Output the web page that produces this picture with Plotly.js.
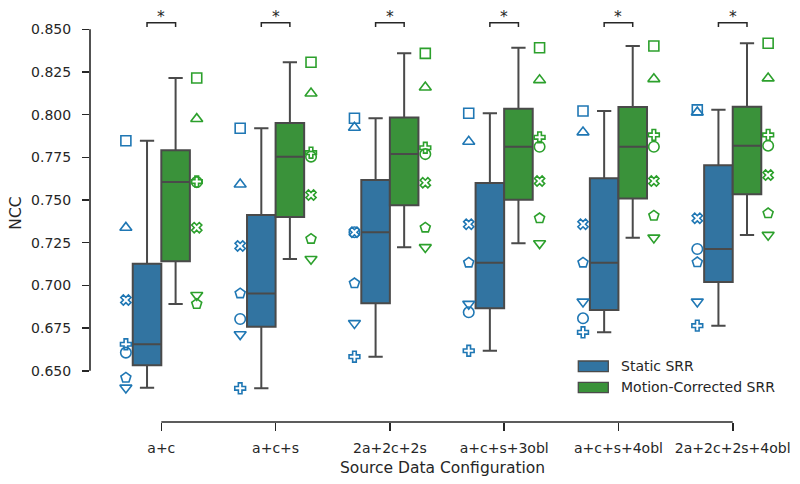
<!DOCTYPE html>
<html>
<head>
<meta charset="utf-8">
<script src="https://cdn.plot.ly/plotly-3.0.1.min.js"></script>
<style>html,body{margin:0;padding:0;background:#fff;}#chart{width:800px;height:484px;}</style>
</head>
<body>
<div id="chart"></div>
<script>
// ---- data ----
const categories = ['a+c', 'a+c+s', '2a+2c+2s', 'a+c+s+3obl', 'a+c+s+4obl', '2a+2c+2s+4obl'];
const seriesNames = ['Static SRR', 'Motion-Corrected SRR'];
const yTickVals = [0.650, 0.675, 0.700, 0.725, 0.750, 0.775, 0.800, 0.825, 0.850];
const significance = ['*', '*', '*', '*', '*', '*'];

// Static SRR, one array per subject, values per configuration
const staticSub1 = [0.7847, 0.7920, 0.7979, 0.8008, 0.8021, 0.8028];
const staticSub2 = [0.7338, 0.7592, 0.7924, 0.7842, 0.7897, 0.8013];
const staticSub3 = [0.6914, 0.7231, 0.7311, 0.7358, 0.7358, 0.7393];
const staticSub4 = [0.6606, 0.6803, 0.7311, 0.6842, 0.6807, 0.7213];
const staticSub5 = [0.6459, 0.6953, 0.7012, 0.7133, 0.7133, 0.7135];
const staticSub6 = [0.6400, 0.6713, 0.6778, 0.6891, 0.6904, 0.6904];
const staticSub7 = [0.6655, 0.6397, 0.6582, 0.6617, 0.6725, 0.6764];

// Motion-Corrected SRR, one array per subject, values per configuration
const mcSub1 = [0.8215, 0.8307, 0.8359, 0.8392, 0.8402, 0.8418];
const mcSub2 = [0.7975, 0.8125, 0.8160, 0.8203, 0.8209, 0.8213];
const mcSub3 = [0.7338, 0.7529, 0.7601, 0.7611, 0.7611, 0.7646];
const mcSub4 = [0.7605, 0.7754, 0.7769, 0.7812, 0.7812, 0.7818];
const mcSub5 = [0.6891, 0.7272, 0.7338, 0.7393, 0.7408, 0.7422];
const mcSub6 = [0.6943, 0.7154, 0.7223, 0.7246, 0.7279, 0.7295];
const mcSub7 = [0.7608, 0.7777, 0.7806, 0.7867, 0.7881, 0.7881];

const staticSubjects = [staticSub1, staticSub2, staticSub3, staticSub4, staticSub5, staticSub6, staticSub7];
const mcSubjects = [mcSub1, mcSub2, mcSub3, mcSub4, mcSub5, mcSub6, mcSub7];

// ---- styles ----
const FONT = 'DejaVu Sans, Verdana, sans-serif';
const TXT = '#262626';
const EDGE = '#4a4a4a';
const boxFill = ['#3274a1', '#3a923a'];
const markerColor = ['#1f77b4', '#2ca02c'];
const subjectSymbols = ['square-open', 'triangle-up-open', 'x-open', 'circle-open', 'pentagon-open', 'triangle-down-open', 'cross-open'];
const subjectSizes = [10, 10.5, 9, 10.5, 10.5, 10.5, 9];
const markerOffset = 0.31;
const TICK_SIZE = 14, LABEL_SIZE = 15.5;

// layout geometry (pixels)
const W = 800, H = 484;
const ML = 90, MR = 5, MT = 4, MB = 62;
const X_RANGE = [-0.624, 5.545];
const Y_RANGE = [0.61995, 0.86482];
const plotW = W - ML - MR, plotH = H - MT - MB;
const xp = v => (v - X_RANGE[0]) / (X_RANGE[1] - X_RANGE[0]);
const yp = v => (v - Y_RANGE[0]) / (Y_RANGE[1] - Y_RANGE[0]);
const pxX = px => (px - ML) / plotW;
const pxY = py => (H - MB - py) / plotH;

const traces = [];
[staticSubjects, mcSubjects].forEach((subs, s) => {
  const xs = [], ys = [];
  subs.forEach(arr => arr.forEach((v, i) => { xs.push(i); ys.push(v); }));
  traces.push({
    type: 'box', name: seriesNames[s], x: xs, y: ys,
    boxpoints: false, quartilemethod: 'inclusive',
    fillcolor: boxFill[s], line: {color: EDGE, width: 2},
    whiskerwidth: 0.5, showlegend: false, hoverinfo: 'skip'
  });
});
[staticSubjects, mcSubjects].forEach((subs, s) => {
  subs.forEach((arr, k) => {
    traces.push({
      type: 'scatter', mode: 'markers', showlegend: false,
      x: arr.map((v, i) => i + (s === 0 ? -markerOffset : markerOffset)),
      y: arr,
      marker: {symbol: subjectSymbols[k], size: subjectSizes[k], color: markerColor[s], line: {width: 1.6, color: markerColor[s]}},
      hoverinfo: 'skip'
    });
  });
});

const shapes = [];
const annotations = [];
// trimmed spines
shapes.push({type: 'line', xref: 'paper', yref: 'paper', x0: 0, x1: 0, y0: yp(yTickVals[0]), y1: yp(yTickVals[yTickVals.length - 1]), line: {color: TXT, width: 1.6}});
shapes.push({type: 'line', xref: 'paper', yref: 'paper', x0: xp(0), x1: xp(categories.length - 1), y0: 0, y1: 0, line: {color: TXT, width: 1.6}});
// significance brackets
categories.forEach((c, i) => {
  const a = xp(i - 0.125), b = xp(i + 0.125);
  const top = pxY(22.7), bot = pxY(27);
  shapes.push({type: 'path', xref: 'paper', yref: 'paper',
    path: `M${a},${bot} L${a},${top} L${b},${top} L${b},${bot}`,
    line: {color: TXT, width: 1.5}});
  annotations.push({xref: 'paper', yref: 'paper', x: xp(i), y: pxY(14), text: significance[i], showarrow: false,
    xanchor: 'center', yanchor: 'top', yshift: 8, font: {family: FONT, size: LABEL_SIZE, color: TXT}});
});
// legend
const legRows = [[361, 371.7, 366], [382.3, 392.7, 387.3]];
seriesNames.forEach((n, s) => {
  const r = legRows[s];
  shapes.push({type: 'rect', xref: 'paper', yref: 'paper', x0: pxX(578.3), x1: pxX(608.3), y0: pxY(r[1]), y1: pxY(r[0]),
    fillcolor: boxFill[s], line: {color: EDGE, width: 1.3}});
  annotations.push({xref: 'paper', yref: 'paper', x: pxX(619.3), y: pxY(r[2]), text: n, showarrow: false,
    xanchor: 'left', yanchor: 'middle', font: {family: FONT, size: TICK_SIZE, color: TXT}});
});

const layout = {
  width: W, height: H,
  margin: {l: ML, r: MR, t: MT, b: MB, pad: 0},
  paper_bgcolor: '#fff', plot_bgcolor: '#fff',
  font: {family: FONT, size: TICK_SIZE, color: TXT},
  boxmode: 'group', boxgap: 0.5, boxgroupgap: 0,
  showlegend: false,
  xaxis: {
    range: X_RANGE, showgrid: false, zeroline: false, showline: false,
    tickmode: 'array', tickvals: categories.map((c, i) => i), ticktext: categories,
    ticks: 'outside', ticklen: 8, tickwidth: 1.6, tickcolor: TXT, ticklabelstandoff: 5,
    tickfont: {family: FONT, size: TICK_SIZE, color: TXT},
    title: {text: 'Source Data Configuration', font: {family: FONT, size: LABEL_SIZE, color: TXT}, standoff: 7},
    automargin: false
  },
  yaxis: {
    range: Y_RANGE, showgrid: false, zeroline: false, showline: false,
    tickmode: 'array', tickvals: yTickVals, tickformat: '.3f',
    ticks: 'outside', ticklen: 7, tickwidth: 1.6, tickcolor: TXT, ticklabelstandoff: 8,
    tickfont: {family: FONT, size: TICK_SIZE, color: TXT},
    title: {text: 'NCC', font: {family: FONT, size: LABEL_SIZE, color: TXT}, standoff: 5},
    automargin: false
  },
  shapes: shapes,
  annotations: annotations
};

Plotly.newPlot('chart', traces, layout, {staticPlot: true, displayModeBar: false});
</script>
</body>
</html>
